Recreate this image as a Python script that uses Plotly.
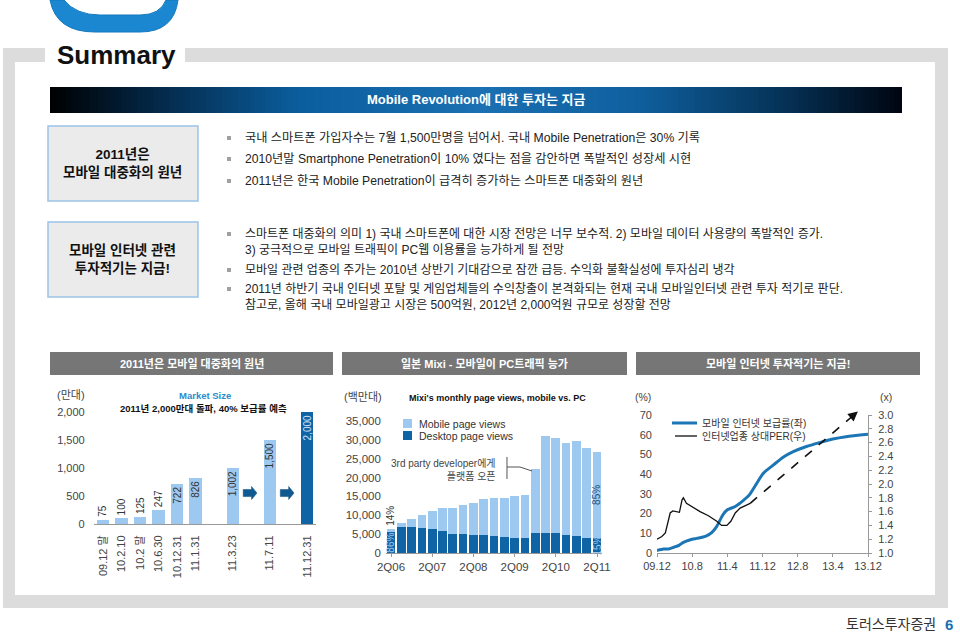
import plotly.graph_objects as go

W, H = 960, 636
FONT = "Liberation Sans, Noto Sans CJK KR, sans-serif"

LIGHT = "#9dc8f0"
DARK = "#0f64a5"

# Market size (만대)
ms_labels = ["09.12 말", "10.2.10", "10.2 말", "10.6.30", "10.12.31", "11.1.31", "11.3.23", "11.7.11", "11.12.31"]
ms_values = [75, 100, 125, 247, 722, 826, 1002, 1500, 2000]

# Mixi monthly page views (백만대)
quarters = ["2Q06", "3Q06", "4Q06", "1Q07", "2Q07", "3Q07", "4Q07", "1Q08", "2Q08", "3Q08", "4Q08",
            "1Q09", "2Q09", "3Q09", "4Q09", "1Q10", "2Q10", "3Q10", "4Q10", "1Q11", "2Q11"]
desktop_pv = [5500, 6800, 7000, 6700, 6400, 5900, 5100, 5100, 4850, 4850, 4400,
              4150, 4100, 4100, 5200, 5200, 5200, 4700, 4400, 4100, 4000]
mobile_pv = [900, 1100, 2000, 3300, 4800, 6100, 6900, 7700, 8450, 9450, 10100,
             10350, 10900, 11400, 17100, 25800, 25300, 24500, 25300, 23800, 22800]
pv_tick_labels = ["2Q06", "2Q07", "2Q08", "2Q09", "2Q10", "2Q11"]

# Mobile internet penetration (%) vs relative PER (x), months from 09.12
month_ticks = [0, 8, 16, 24, 32, 40, 48]
month_labels = ["09.12", "10.8", "11.4", "11.12", "12.8", "13.4", "13.12"]
pen_month = [0, 1.5, 2.6, 3.8, 5, 6, 7.6, 9, 11, 12.5, 13.6, 15, 16, 17.8, 19.6, 21, 22.7,
             24.2, 26.5, 28.7, 31, 34, 37, 40, 43, 48]
pen_value = [1.3, 2.0, 2.0, 2.9, 3.9, 5.4, 6.7, 7.4, 8.4, 10.5, 13.5, 19.4, 21.9, 23.6, 26.6,
             29.5, 35.4, 40.5, 44.7, 48.6, 51.4, 54.0, 56.0, 57.8, 59.0, 60.2]
per_month = [0, 1.1, 1.9, 2.6, 3.0, 3.6, 4.5, 5.1, 5.7, 6.0, 6.7, 7.9, 9.8, 11.7, 13.6,
             14.7, 15.9, 16.8, 17.8, 18.9, 20.0, 21.2]
per_value = [1.20, 1.24, 1.29, 1.46, 1.58, 1.61, 1.60, 1.59, 1.77, 1.80, 1.72, 1.67, 1.60,
             1.54, 1.46, 1.40, 1.40, 1.46, 1.58, 1.65, 1.68, 1.72]
per_fc_month = [21.2, 45.7]
per_fc_value = [1.72, 3.05]

bullets_1 = [
    "국내 스마트폰 가입자수는 7월 1,500만명을 넘어서. 국내 Mobile Penetration은 30% 기록",
    "2010년말 Smartphone Penetration이 10% 였다는 점을 감안하면 폭발적인 성장세 시현",
    "2011년은 한국 Mobile Penetration이 급격히 증가하는 스마트폰 대중화의 원년",
]
bullets_2 = [
    ["스마트폰 대중화의 의미 1) 국내 스마트폰에 대한 시장 전망은 너무 보수적. 2) 모바일 데이터 사용량의 폭발적인 증가.",
     "3) 궁극적으로 모바일 트래픽이 PC웹 이용률을 능가하게 될 전망"],
    ["모바일 관련 업종의 주가는 2010년 상반기 기대감으로 잠깐 급등. 수익화 불확실성에 투자심리 냉각"],
    ["2011년 하반기 국내 인터넷 포탈 및 게임업체들의 수익창출이 본격화되는 현재 국내 모바일인터넷 관련 투자 적기로 판단.",
     "참고로, 올해 국내 모바일광고 시장은 500억원, 2012년 2,000억원 규모로 성장할 전망"],
]
section_titles = ["2011년은 모바일 대중화의 원년", "일본 Mixi - 모바일이 PC트래픽 능가", "모바일 인터넷 투자적기는 지금!"]


def px(x):
    return x / W


def py(y):
    return 1 - y / H


shapes = []
ann = []


def rect(x0, y0, x1, y1, fill, line=None, lw=0):
    shapes.append(dict(type="rect", xref="paper", yref="paper", x0=px(x0), x1=px(x1),
                       y0=py(y1), y1=py(y0), fillcolor=fill,
                       line=dict(color=line or fill, width=lw), layer="below"))


def label(x, y, s, size=12, color="#222", xanchor="left", align="left", angle=0):
    ann.append(dict(xref="paper", yref="paper", x=px(x), y=py(y), text=s, showarrow=False,
                    xanchor=xanchor, yanchor="middle", align=align, textangle=angle,
                    font=dict(family=FONT, size=size, color=color)))


def path(pts, color, width=1, fill=None, closed=False):
    d = "M " + " L ".join(f"{px(a):.5f},{py(b):.5f}" for a, b in pts)
    if closed:
        d += " Z"
    shapes.append(dict(type="path", xref="paper", yref="paper", path=d,
                       line=dict(color=color, width=width), fillcolor=fill))


# ---- frame and logo ----
FRAME = "#dcdcdc"
rect(3, 48, 45, 62, FRAME)
rect(185, 48, 948, 62, FRAME)
rect(3, 48, 15, 608, FRAME)
rect(935, 48, 948, 608, FRAME)
rect(3, 595, 948, 608, FRAME)

logo = (f"M {px(50)},{py(0)} L {px(64)},{py(0)} Q {px(76)},{py(15)} {px(100)},{py(15)} "
        f"L {px(140)},{py(15)} Q {px(160)},{py(15)} {px(166)},{py(0)} L {px(178)},{py(0)} "
        f"Q {px(174)},{py(32)} {px(140)},{py(32)} L {px(95)},{py(32)} Q {px(56)},{py(32)} {px(50)},{py(0)} Z")
shapes.append(dict(type="path", xref="paper", yref="paper", path=logo,
                   fillcolor="#1b87d0", line=dict(color="#1579bd", width=1)))

label(55, 55, "<b>Summary</b>", size=26, color="#111")

# ---- gradient header bar ----
stops = [(50, (0, 0, 0)), (140, (3, 34, 62)), (300, (11, 94, 158)), (480, (26, 112, 178)),
         (640, (15, 95, 158)), (780, (5, 51, 88)), (902, (0, 5, 16))]


def grad(x):
    for (xa, ca), (xb, cb) in zip(stops, stops[1:]):
        if xa <= x <= xb:
            t = (x - xa) / (xb - xa)
            return "rgb(%d,%d,%d)" % tuple(round(a + (b - a) * t) for a, b in zip(ca, cb))
    return "rgb(0,0,0)"


x = 50
while x < 902:
    rect(x, 87, min(x + 4.6, 902), 113, grad(x + 2))
    x += 4
label(476, 100, "<b>Mobile Revolution에 대한 투자는 지금</b>", size=13, color="white", xanchor="center")

# ---- text boxes ----
rect(48, 126, 198, 201, "#ebebeb", "#9cc3e8", 1.5)
label(123, 164, "<b>2011년은<br>모바일 대중화의 원년</b>", size=13.5, color="#111", xanchor="center", align="center")
rect(48, 222, 198, 297, "#ebebeb", "#9cc3e8", 1.5)
label(123, 259, "<b>모바일 인터넷 관련<br>투자적기는 지금!</b>", size=13.5, color="#111", xanchor="center", align="center")

for s, y in zip(bullets_1, [138, 159, 181]):
    rect(227, y - 2, 231, y + 2, "#a0a0a0")
    label(243, y, s, size=12.2)

b2_y = [[234, 250], [270], [289, 305]]
for lines, ys in zip(bullets_2, b2_y):
    rect(227, ys[0] - 2, 231, ys[0] + 2, "#a0a0a0")
    for s, y in zip(lines, ys):
        label(243, y, s, size=12)

# ---- section bars ----
for t, (x0, x1) in zip(section_titles, [(50, 333), (342, 627), (636, 920)]):
    rect(x0, 352, x1, 375, "#767676")
    label((x0 + x1) / 2, 363.5, f"<b>{t}</b>", size=11, color="white", xanchor="center")

fig = go.Figure()

# ---- chart 1: market size ----
slots = [0, 1, 2, 3, 4, 5, 7, 9, 11]
fig.add_trace(go.Bar(
    x=slots, y=ms_values, width=0.68, xaxis="x", yaxis="y",
    marker=dict(color=[LIGHT] * 8 + [DARK], line=dict(width=0)),
    text=[f"{v:,}" for v in ms_values], textangle=-90,
    textposition=["outside"] * 4 + ["inside"] * 5, insidetextanchor="end",
    constraintext="none", cliponaxis=False,
    textfont=dict(family=FONT, size=10, color=["#333"] * 8 + ["#cfe3f7"]),
    hoverinfo="skip", showlegend=False))

for s in [8, 10]:
    shapes.append(dict(type="path", xref="x", yref="y", fillcolor="#0e5a91",
                       line=dict(color="#0b4a7a", width=0.5),
                       path=(f"M {s-0.44},{490} L {s+0.01},{490} L {s+0.01},{437} L {s+0.3},{553} "
                             f"L {s+0.01},{670} L {s+0.01},{615} L {s-0.44},{615} Z")))

label(55, 395, "(만대)", size=11, color="#444")
label(205, 395, "<b>Market Size</b>", size=9.5, color="#2b8ccc", xanchor="center")
label(203, 408, "<b>2011년 2,000만대 돌파, 40% 보급률 예측</b>", size=9.5, color="#111", xanchor="center")

# ---- chart 2: Mixi page views ----
fig.add_trace(go.Bar(x=quarters, y=desktop_pv, width=0.84, xaxis="x2", yaxis="y2",
                     marker=dict(color=DARK, line=dict(width=0)), hoverinfo="skip", showlegend=False))
fig.add_trace(go.Bar(x=quarters, y=mobile_pv, width=0.84, xaxis="x2", yaxis="y2",
                     marker=dict(color=LIGHT, line=dict(width=0)), hoverinfo="skip", showlegend=False))

first_total = desktop_pv[0] + mobile_pv[0]
last_i = len(quarters) - 1
for xq, yv, s, col, yanc in [
    (quarters[0], first_total, "14%", "#333", "bottom"),
    (quarters[0], desktop_pv[0] / 2, "86%", LIGHT, "middle"),
    (quarters[last_i], desktop_pv[last_i] + mobile_pv[last_i] / 2, "85%", "#24507a", "middle"),
    (quarters[last_i], desktop_pv[last_i] / 2, "15%", LIGHT, "middle"),
]:
    ann.append(dict(xref="x2", yref="y2", x=xq, y=yv, text=s, showarrow=False, textangle=-90,
                    xanchor="center", yanchor=yanc, yshift=1 if yanc == "bottom" else 0,
                    font=dict(family=FONT, size=10, color=col)))

label(342, 397, "(백만대)", size=11, color="#444")
label(497, 398, "<b>Mixi's monthly page views, mobile vs. PC</b>", size=9, color="#111", xanchor="center")
rect(403, 419, 412, 428, LIGHT)
rect(403, 431, 412, 440, DARK)
label(417, 423.5, "Mobile page views", size=10.5, color="#333")
label(417, 435.5, "Desktop page views", size=10.5, color="#333")
label(498, 469.5, "3rd party developer에게<br>플랫폼 오픈", size=10, color="#444", xanchor="right", align="right")
path([(507, 457), (507, 479)], "#555", 1)
path([(507, 467), (520, 467), (532, 471)], "#555", 1)

# ---- chart 3: penetration vs PER ----
fig.add_trace(go.Scatter(x=pen_month, y=pen_value, xaxis="x3", yaxis="y3", mode="lines",
                         line=dict(color="#1c76b5", width=3, shape="spline", smoothing=0.7),
                         hoverinfo="skip", showlegend=False))
fig.add_trace(go.Scatter(x=per_month, y=per_value, xaxis="x3", yaxis="y4", mode="lines",
                         line=dict(color="#111", width=1.3), hoverinfo="skip", showlegend=False))
fig.add_trace(go.Scatter(x=per_fc_month, y=per_fc_value, xaxis="x3", yaxis="y4", mode="lines",
                         line=dict(color="#111", width=1.6, dash="dash"), hoverinfo="skip", showlegend=False))
ann.append(dict(xref="x3", yref="y4", x=per_fc_month[1], y=per_fc_value[1],
                axref="x3", ayref="y4", ax=per_fc_month[1] - 1.3, ay=per_fc_value[1] - 0.07,
                text="", showarrow=True, arrowhead=2, arrowsize=1.3, arrowwidth=1.5, arrowcolor="#111"))

label(633, 397, "(%)", size=10.5, color="#444")
label(878, 397, "(x)", size=10.5, color="#444")
path([(672, 423), (697, 423)], "#1c76b5", 3)
path([(675, 436), (697, 436)], "#111", 1.3)
label(700, 423, "모바일 인터넷 보급률(좌)", size=10, color="#333")
label(700, 436, "인터넷업종 상대PER(우)", size=10, color="#333")

# ---- footer ----
label(938, 624, "토러스투자증권", size=14, color="#333", xanchor="right")
label(943, 624, "<b>6</b>", size=15, color="#1a6fb0")

tick_font = dict(family=FONT, size=11, color="#444")
base = dict(showgrid=False, zeroline=False, fixedrange=True, tickfont=tick_font, automargin=False)

fig.update_layout(
    width=W, height=H, margin=dict(l=0, r=0, t=0, b=0, pad=0, autoexpand=False),
    paper_bgcolor="white", plot_bgcolor="rgba(0,0,0,0)",
    barmode="stack", showlegend=False,
    font=dict(family=FONT, color="#333"),
    shapes=shapes, annotations=ann,
    xaxis=dict(base, domain=[93.7 / W, 316.3 / W], range=[-0.5, 11.5], anchor="y",
               tickvals=slots, ticktext=ms_labels, tickangle=-90, showline=True,
               linecolor="#999", ticks="", ticklabelstandoff=6),
    yaxis=dict(base, domain=[py(524), py(412)], range=[0, 2000], anchor="x",
               tickvals=[0, 500, 1000, 1500, 2000], tickformat=",", ticks="",
               ticklabelstandoff=8),
    xaxis2=dict(base, domain=[385.85 / W, 602.15 / W], range=[-0.5, 20.5], anchor="y2",
                type="category", categoryorder="array", categoryarray=quarters,
                tickvals=pv_tick_labels, ticktext=pv_tick_labels, showline=True,
                linecolor="#999", ticks="outside", ticklen=3, tickcolor="#999",
                tickfont=dict(family=FONT, size=11.5, color="#444")),
    yaxis2=dict(base, domain=[py(553), py(421)], range=[0, 35000], anchor="x2",
                dtick=5000, tickformat=",", ticks="", ticklabelstandoff=4,
                tickfont=dict(family=FONT, size=11.5, color="#444")),
    xaxis3=dict(base, domain=[657 / W, 868 / W], range=[0, 48], anchor="y3",
                tickvals=month_ticks, ticktext=month_labels, showline=True,
                linecolor="#999", ticks="outside", ticklen=3, tickcolor="#999"),
    yaxis3=dict(base, domain=[py(553), py(415)], range=[0, 70], anchor="x3",
                dtick=10, ticks="", ticklabelstandoff=4),
    yaxis4=dict(base, range=[1.0, 3.0], anchor="x3", overlaying="y3", side="right",
                dtick=0.2, tickformat=".1f", showline=True, linecolor="#999",
                ticks="outside", ticklen=3, tickcolor="#999", ticklabelstandoff=4),
)

# the page's default body margin would shift the fixed-size figure by 8px
fig.write_html("out.html", config={"displayModeBar": False},
               post_script="document.body.style.margin='0px';")
